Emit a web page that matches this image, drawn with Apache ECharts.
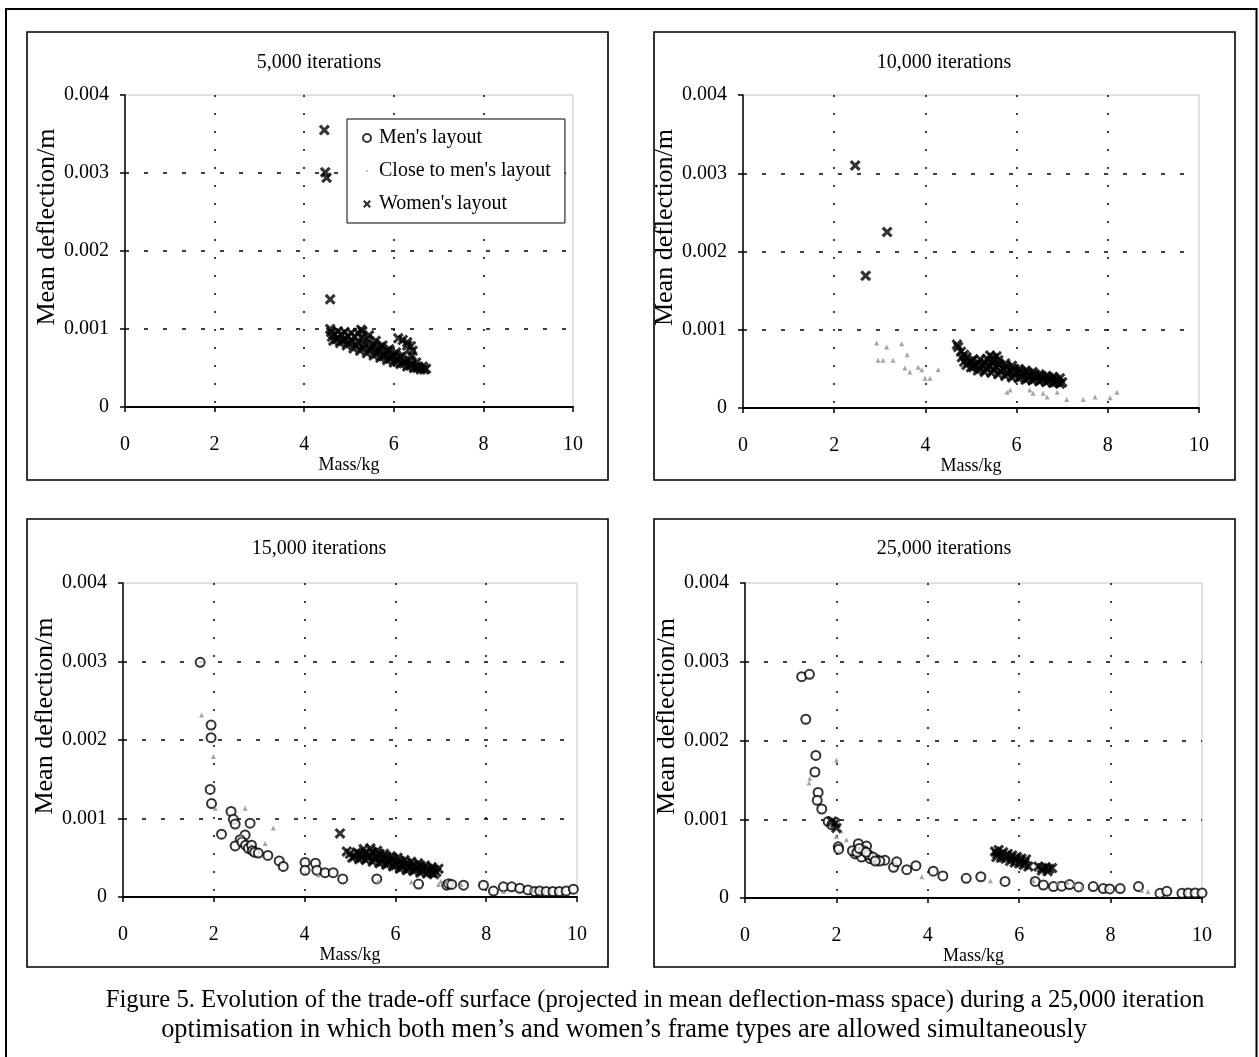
<!DOCTYPE html>
<html>
<head>
<meta charset="utf-8">
<script src="https://cdn.jsdelivr.net/npm/echarts/dist/echarts.min.js"></script>
<style>
html, body { margin: 0; background: #fff; }
#chart { width: 1259px; height: 1057px; }
</style>
</head>
<body>
<div id="chart"></div>
<script>
// ---- data: [mass kg, mean deflection m] ----
var panelTitles = ['5,000 iterations', '10,000 iterations', '15,000 iterations', '25,000 iterations'];
var seriesNames = ["Men's layout", "Close to men's layout", "Women's layout"];
var captionLines = [
  'Figure 5. Evolution of the trade-off surface (projected in mean deflection-mass space) during a 25,000 iteration',
  'optimisation in which both men\u2019s and women\u2019s frame types are allowed simultaneously'
];

var men5k = [];
var close5k = [];
var women5k = [
  [4.45,0.00355],[4.47,0.00301],[4.5,0.00294],[4.58,0.00138],[4.58,0.001],[5.27,0.00099],
  [4.6,0.00096],[4.75,0.00097],[4.9,0.00096],[5.05,0.00095],[5.2,0.00095],[5.3,0.00097],[5.45,0.00092],[5.6,0.00085],
  [5.75,0.00079],[5.9,0.00074],[6.05,0.0007],[6.2,0.00066],[6.35,0.0006],[6.5,0.00057],[6.65,0.00052],[6.72,0.00049],
  [4.68,0.00093],[4.83,0.00093],[4.98,0.00091],[5.13,0.0009],[5.28,0.00089],[5.4,0.00087],[5.55,0.00081],[5.7,0.00077],
  [5.85,0.00072],[6.0,0.00067],[6.15,0.00064],
  [4.62,0.0009],[4.75,0.00089],[4.9,0.00087],[5.05,0.00085],[5.2,0.00083],[5.35,0.0008],[5.5,0.00077],[5.65,0.00073],
  [5.8,0.00068],[5.95,0.00064],[6.1,0.00061],[6.25,0.00058],[6.4,0.00055],[6.55,0.00052],
  [4.72,0.00087],[4.87,0.00085],[5.02,0.00082],[5.17,0.00079],[5.32,0.00076],[5.47,0.00073],[5.62,0.00069],
  [5.77,0.00065],[5.92,0.00062],[6.07,0.00059],[6.22,0.00056],[6.37,0.00053],[6.52,0.0005],[6.68,0.00048],
  [4.65,0.00085],[4.8,0.00082],[4.95,0.00079],[5.1,0.00075],[5.25,0.00072],[5.4,0.00069],[5.55,0.00066],[5.7,0.00063],
  [5.85,0.0006],[6.0,0.00057],[6.15,0.00055],[6.3,0.00052],[6.45,0.0005],[6.6,0.00048],
  [6.1,0.00088],[6.2,0.00086],[6.3,0.00083],[6.38,0.00078],[6.42,0.00072],[6.4,0.00066],[6.3,0.00079]
];

var men10k = [];
var close10k = [
  [2.93,0.00083],[3.15,0.00078],[3.48,0.00082],[3.6,0.00068],[2.96,0.00061],[3.07,0.00061],[3.29,0.00061],
  [3.55,0.00051],[3.66,0.00046],[3.84,0.00052],[3.92,0.00049],[4.1,0.00038],[4.28,0.00049],[3.99,0.00038],
  [5.79,0.0002],[5.86,0.00023],[6.29,0.00023],[6.36,0.00019],[6.58,0.00019],[6.89,0.0002],[6.67,0.00014],
  [7.1,0.00011],[7.46,0.00011],[7.72,0.00014],[8.05,0.00013],[8.2,0.0002]
];
var women10k = [
  [2.46,0.0031],[3.16,0.00225],[2.69,0.00169],[4.69,0.00081],[4.72,0.00078],
  [4.78,0.00072],[4.9,0.00065],[5.05,0.00062],[5.2,0.00062],[5.35,0.00063],[5.48,0.00064],[5.6,0.00061],[5.75,0.00057],
  [5.9,0.00054],[6.05,0.0005],[6.2,0.00048],[6.35,0.00046],[6.5,0.00043],[6.65,0.00041],[6.8,0.0004],[6.95,0.00038],
  [4.85,0.00068],[5.0,0.0006],[5.15,0.00058],[5.3,0.00058],[5.45,0.00059],[5.62,0.00056],[5.78,0.00053],[5.95,0.0005],
  [6.1,0.00047],[6.25,0.00045],[6.4,0.00043],[6.55,0.00041],[6.7,0.00039],[6.85,0.00037],
  [4.8,0.00065],[4.95,0.00058],[5.1,0.00055],[5.25,0.00054],[5.4,0.00054],[5.55,0.00052],[5.7,0.0005],[5.85,0.00047],
  [6.0,0.00045],[6.15,0.00043],[6.3,0.00041],[6.45,0.00039],[6.6,0.00037],[6.75,0.00036],[6.9,0.00034],[7.0,0.00033],
  [4.9,0.00055],[5.05,0.00052],[5.2,0.0005],[5.35,0.0005],[5.5,0.00049],[5.65,0.00047],[5.8,0.00044],[5.95,0.00042],
  [6.1,0.0004],[6.25,0.00038],[6.4,0.00037],[6.55,0.00036],[6.7,0.00035],[6.85,0.00033],
  [4.85,0.00059],[5.0,0.00052],[5.15,0.00048],[5.3,0.00046],[5.45,0.00045],[5.6,0.00043],[5.75,0.00041],[5.9,0.00039],
  [6.05,0.00038],[6.2,0.00036],[6.35,0.00035],[6.5,0.00034],[6.65,0.00033],[6.8,0.00032],[6.95,0.00031],
  [5.5,0.00061],[5.42,0.00067],[5.56,0.00066]
];

var men15k = [
  [1.70,0.00299],[1.94,0.00219],[1.94,0.00203],[1.92,0.00137],[1.95,0.00119],[2.17,0.0008],[2.38,0.00109],
  [2.43,0.00099],[2.47,0.00093],[2.8,0.00094],[2.69,0.00079],[2.58,0.00073],[2.47,0.00065],[2.62,0.0007],
  [2.7,0.00066],[2.76,0.00062],[2.83,0.00066],[2.85,0.00059],[2.9,0.00057],[2.98,0.00056],[3.19,0.00053],
  [3.44,0.00046],[3.53,0.00039],[4.01,0.00044],[4.01,0.00034],[4.24,0.00043],[4.27,0.00034],[4.45,0.00031],
  [4.63,0.00031],[4.84,0.00023],[5.59,0.00023],[6.51,0.000165],[7.13,0.00015],[7.17,0.00017],[7.24,0.00016],
  [7.5,0.00015],[7.94,0.00015],[8.16,0.000075],[8.38,0.00013],[8.56,0.00013],[8.74,0.00011],[8.92,0.00009],
  [9.07,0.00007],[9.18,0.000075],[9.32,0.00007],[9.47,0.00007],[9.61,0.00007],[9.76,0.000075],[9.92,0.0001]
];
var close15k = [
  [1.73,0.00232],[1.99,0.00179],[2.03,0.00113],[2.69,0.00113],[3.31,0.00088],[3.13,0.00068],[2.6,0.00078],
  [4.3,0.00028],[5.62,0.0002],[6.35,0.00019],[6.95,0.00016],[7.0,0.0002],[7.13,0.0002],[7.45,0.00016],
  [8.38,0.00007],[9.0,0.00009]
];
var women15k = [
  [4.78,0.00081],[4.93,0.00058],[5.0,0.00055],[5.05,0.0005],
  [5.15,0.00057],[5.3,0.00061],[5.45,0.00062],[5.6,0.00059],[5.75,0.00055],[5.9,0.00052],[6.05,0.0005],
  [6.2,0.00047],[6.35,0.00045],[6.5,0.00043],[6.65,0.0004],[6.8,0.00038],[6.95,0.00036],
  [5.2,0.00055],[5.35,0.00057],[5.5,0.00057],[5.65,0.00055],[5.8,0.00052],[5.95,0.00049],[6.1,0.00046],
  [6.25,0.00043],[6.4,0.00041],[6.55,0.0004],[6.7,0.00037],[6.85,0.00035],
  [5.1,0.00052],[5.25,0.00054],[5.4,0.00053],[5.55,0.00051],[5.7,0.00048],[5.85,0.00046],[6.0,0.00043],
  [6.15,0.00041],[6.3,0.00039],[6.45,0.00037],[6.6,0.00035],[6.75,0.00034],[6.9,0.00032],
  [5.25,0.0005],[5.4,0.0005],[5.55,0.00048],[5.7,0.00045],[5.85,0.00043],[6.0,0.0004],[6.15,0.00038],
  [6.3,0.00036],[6.45,0.00035],[6.6,0.00033],[6.8,0.00031],
  [5.2,0.00048],[5.35,0.00047],[5.5,0.00045],[5.65,0.00043],[5.8,0.00041],[5.95,0.00039],[6.1,0.00036],
  [6.25,0.00034],[6.4,0.00033],[6.55,0.00031],[6.7,0.0003],[6.85,0.00029]
];

var men25k = [
  [1.24,0.00281],[1.41,0.00284],[1.33,0.00227],[1.55,0.00181],[1.53,0.0016],[1.6,0.00134],[1.58,0.00124],
  [1.68,0.00113],[1.82,0.00097],[1.9,0.00093],[2.04,0.00065],[2.05,0.00062],[2.48,0.00069],[2.66,0.00066],
  [2.41,0.00056],[2.55,0.00052],[2.74,0.0005],[2.88,0.00049],[3.06,0.00048],[3.25,0.00039],[3.32,0.00046],
  [3.54,0.00036],[3.74,0.00041],[4.12,0.00034],[4.33,0.00028],[4.84,0.00025],[5.16,0.00027],[5.69,0.00021],
  [6.35,0.00021],[6.53,0.000165],[6.75,0.000145],[6.93,0.00015],[7.1,0.00017],[7.3,0.00014],[7.62,0.000145],
  [7.84,0.00012],[7.98,0.000115],[8.21,0.00012],[8.61,0.000145],[9.08,0.00006],[9.23,0.000085],[9.56,0.00006],
  [9.7,0.000065],[9.85,0.000065],[10.0,0.000065],
  [2.35,0.0006],[2.45,0.00058],[2.6,0.0006],[2.7,0.00055],[2.8,0.00052],[2.95,0.00047],[2.5,0.00063],
  [2.65,0.00058],[2.85,0.00047]
];
var close25k = [
  [1.42,0.00152],[1.4,0.00146],[2.0,0.00175],[2.0,0.00078],[2.22,0.00074],[2.1,0.00085],[3.87,0.00027],
  [5.37,0.00022],[6.31,0.00022],[6.84,0.00019],[7.05,0.0002],[7.2,0.00017],[7.38,0.00014],[8.68,0.0001],
  [8.82,0.00008]
];
var women25k = [
  [1.9,0.00097],[1.98,0.00095],[2.0,0.00089],
  [5.47,0.00059],[5.55,0.00061],[5.65,0.00058],[5.75,0.00056],[5.85,0.00054],[5.95,0.00052],[6.05,0.0005],[6.15,0.00049],
  [5.5,0.00052],[5.6,0.00051],[5.7,0.0005],[5.8,0.00047],[5.9,0.00045],[6.0,0.00044],[6.1,0.00042],[6.2,0.0004],
  [5.52,0.00056],[5.72,0.00053],[5.92,0.00049],[6.12,0.00045],
  [6.42,0.0004],[6.5,0.00038],[6.58,0.00039],[6.65,0.00037],[6.72,0.00038],[6.5,0.00035],[6.62,0.00034]
];

var panelData = [
  [men5k, close5k, women5k],
  [men10k, close10k, women10k],
  [men15k, close15k, women15k],
  [men25k, close25k, women25k]
];

// ---- layout ----
var FONT = '"Liberation Serif", "Times New Roman", serif';
var crossPath = 'path://M0,2L2,0L5,3L8,0L10,2L7,5L10,8L8,10L5,7L2,10L0,8L3,5Z';
var dotPath = 'path://M0,0L0.01,0.01L0,0.01Z M4,4L6,4L6,6L4,6Z M10,10L9.99,9.99L10,9.99Z';
var grids = [
  { left: 125, top: 95, width: 448, height: 312 },
  { left: 743, top: 95, width: 456, height: 313 },
  { left: 123, top: 583, width: 454, height: 314 },
  { left: 745, top: 583, width: 457, height: 315 }
];
var boxes = [[27, 32], [654, 32], [27, 519], [654, 519]];
var titlePos = [[319, 53], [944, 53], [319, 539], [944, 539]];
var captionPos = [[655, 988], [624, 1017]];

var chart = echarts.init(document.getElementById('chart'));

var xAxes = [], yAxes = [], series = [], titles = [], graphics = [];
grids.forEach(function (g, i) {
  g.show = true;
  g.borderColor = '#c4c4c4';
  g.borderWidth = 1;
  g.containLabel = false;
  xAxes.push({
    gridIndex: i, type: 'value', min: 0, max: 10, interval: 2,
    name: 'Mass/kg', nameLocation: 'middle', nameGap: 40,
    nameTextStyle: { fontFamily: FONT, fontSize: 18, color: '#000' },
    axisLine: { lineStyle: { color: '#000', width: 1.8 } },
    axisTick: { show: true, length: 5, lineStyle: { color: '#000', width: 1.5 } },
    axisLabel: { margin: 28, fontFamily: FONT, fontSize: 20, color: '#000' },
    splitLine: { show: true, showMinLine: false, showMaxLine: false, lineStyle: { color: '#000', width: 1.5, type: [2, 16] } }
  });
  yAxes.push({
    gridIndex: i, type: 'value', min: 0, max: 0.004, interval: 0.001,
    name: 'Mean deflection/m', nameLocation: 'middle', nameGap: 64, nameRotate: 90,
    nameTextStyle: { fontFamily: FONT, fontSize: 26, color: '#000', padding: [0, 0, 0, 48] },
    axisLine: { show: true, lineStyle: { color: '#000', width: 1.5 } },
    axisTick: { show: true, length: 5, lineStyle: { color: '#000', width: 1.5 } },
    axisLabel: {
      margin: 16, fontFamily: FONT, fontSize: 20, color: '#000',
      formatter: function (v) { return v === 0 ? '0' : v.toFixed(3); }
    },
    splitLine: { show: true, showMinLine: false, showMaxLine: false, lineStyle: { color: '#000', width: 1.5, type: [4, 15] } }
  });
  titles.push({
    text: panelTitles[i], left: titlePos[i][0], top: titlePos[i][1], textAlign: 'center', padding: 0,
    textStyle: { fontFamily: FONT, fontSize: 20, fontWeight: 'normal', color: '#000' }
  });
  graphics.push({
    type: 'rect', silent: true, z: -1,
    shape: { x: boxes[i][0], y: boxes[i][1], width: 581, height: 448 },
    style: { fill: 'none', stroke: '#000', lineWidth: 1.6 }
  });
  var d = panelData[i];
  series.push({
    name: seriesNames[0], type: 'scatter', xAxisIndex: i, yAxisIndex: i, data: d[0],
    symbol: 'emptyCircle', symbolSize: 9,
    itemStyle: { color: '#000', borderColor: '#000', borderWidth: 2.3 }
  });
  series.push({
    name: seriesNames[1], type: 'scatter', xAxisIndex: i, yAxisIndex: i, data: d[1],
    symbol: 'triangle', symbolSize: 5,
    itemStyle: { color: '#8f8f8f' }
  });
  series.push({
    name: seriesNames[2], type: 'scatter', xAxisIndex: i, yAxisIndex: i, data: d[2],
    symbol: crossPath, symbolSize: 11,
    itemStyle: { color: '#000' }
  });
});

captionLines.forEach(function (line, k) {
  titles.push({
    text: line, left: captionPos[k][0], top: captionPos[k][1], textAlign: 'center', padding: 0,
    textStyle: { fontFamily: FONT, fontSize: k === 0 ? 24.7 : 26.4, fontWeight: 'normal', color: '#000' }
  });
});

// outer frame of the figure
graphics.push({
  type: 'rect', silent: true, z: -1,
  shape: { x: 6, y: 9, width: 1250.5, height: 1070 },
  style: { fill: 'none', stroke: '#000', lineWidth: 2 }
});

chart.setOption({
  animation: false,
  backgroundColor: '#fff',
  title: titles,
  legend: {
    left: 347, top: 119, orient: 'vertical',
    backgroundColor: '#fff', borderColor: '#000', borderWidth: 1,
    padding: [9, 14, 9, 15], itemGap: 13, itemWidth: 14, itemHeight: 8,
    textStyle: { fontFamily: FONT, fontSize: 20, color: '#000' },
    data: [
      { name: seriesNames[0], icon: 'emptyCircle', itemStyle: { borderWidth: 1.3 } },
      { name: seriesNames[1], icon: dotPath, itemStyle: { color: '#8f8f8f' } },
      { name: seriesNames[2], icon: crossPath }
    ]
  },
  grid: grids,
  xAxis: xAxes,
  yAxis: yAxes,
  series: series,
  graphic: graphics
});
</script>
</body>
</html>
